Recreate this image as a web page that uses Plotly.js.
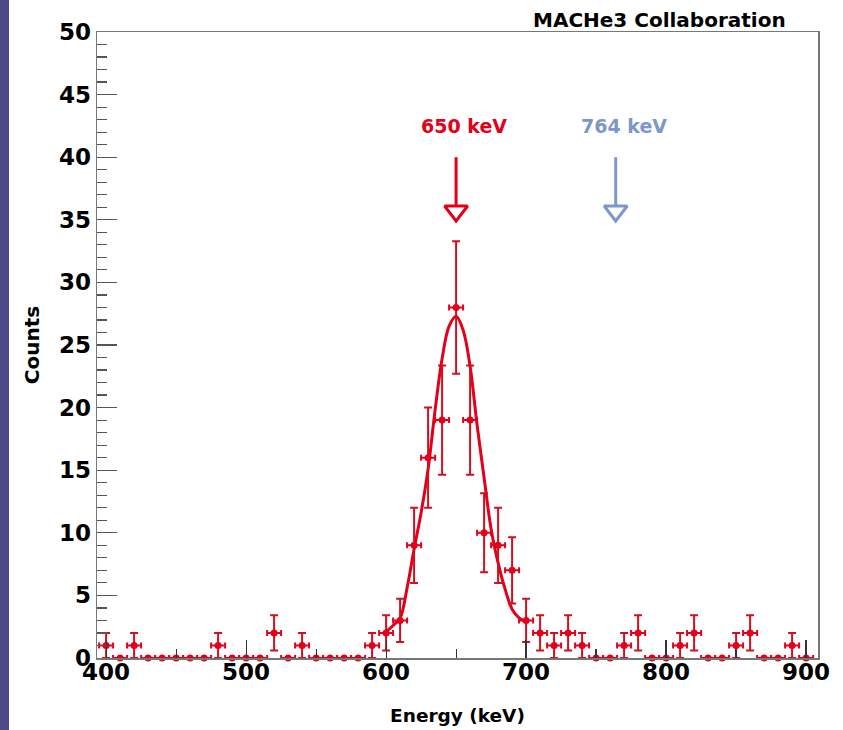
<!DOCTYPE html>
<html>
<head>
<meta charset="utf-8">
<script src="https://cdn.plot.ly/plotly-3.0.1.min.js"></script>
<style>
  html, body { margin: 0; padding: 0; background: #ffffff; }
  #stripe { position: absolute; left: 0; top: 0; width: 9px; height: 730px; background: #4e4a8a; z-index: 5; }
  #chart { width: 843px; height: 730px; }
</style>
</head>
<body>
<div id="stripe"></div>
<div id="chart"></div>
<script>
// Histogram bin centres (keV) and counts
const energies = [400,410,420,430,440,450,460,470,480,490,500,510,520,530,540,550,560,570,580,590,
                  600,610,620,630,640,650,660,670,680,690,700,710,720,730,740,750,760,770,780,790,
                  800,810,820,830,840,850,860,870,880,890,900];
const counts   = [1,0,1,0,0,0,0,0,1,0,0,0,2,0,1,0,0,0,0,1,
                  2,3,9,16,19,28,19,10,9,7,3,2,1,2,1,0,0,1,2,0,
                  0,1,2,0,0,1,2,0,0,1,0];
const countErr = [1,0,1,0,0,0,0,0,1,0,0,0,1.41,0,1,0,0,0,0,1,
                  1.41,1.73,3,4,4.36,5.29,4.36,3.16,3,2.65,1.73,1.41,1,1.41,1,0,0,1,1.41,0,
                  0,1,1.41,0,0,1,1.41,0,0,1,0];
const binHalfWidth = 5;

// Fitted curve
const fitE = [600,605,610,615,620,625,630,635,640,645,650,655,660,665,670,675,680,685,690,695,700];
const fitC = [2.1,2.6,3.2,5.6,8.7,11.6,15.1,19.8,23.9,26.5,27.3,26.2,23.3,18.6,14.4,10.3,7.6,5.5,3.9,3.2,2.9];

// Line markers
const lineE = [650, 764];
const lineLabels = ['650 keV', '764 keV'];
const arrowTop = 40;
const arrowHeadTop = 36.1;
const arrowHeadCentre = 35.7;
const labelY = 42.5;

const RED = '#e2001a';
const BLUE = '#7d97c9';
const FONT = 'DejaVu Sans';

const traces = [];

traces.push({
  x: fitE, y: fitC, type: 'scatter', mode: 'lines',
  line: {color: RED, width: 3, shape: 'spline', smoothing: 1},
  hoverinfo: 'skip', cliponaxis: false
});

traces.push({
  x: energies, y: counts, type: 'scatter', mode: 'markers',
  marker: {color: RED, size: 7, symbol: 'circle'},
  error_y: {type: 'data', array: countErr, visible: true, color: '#d0101e', thickness: 2, width: 4},
  error_x: {type: 'constant', value: binHalfWidth, visible: true, color: RED, thickness: 2, width: 3},
  cliponaxis: false
});

const arrowColors = [RED, BLUE];
lineE.forEach((e, i) => {
  traces.push({
    x: [e, e], y: [arrowTop, arrowHeadTop], type: 'scatter', mode: 'lines',
    line: {color: arrowColors[i], width: 3}, hoverinfo: 'skip'
  });
  traces.push({
    x: [e], y: [arrowHeadCentre], type: 'scatter', mode: 'markers',
    marker: {symbol: 'triangle-down-open', size: 20, color: arrowColors[i], line: {width: 3, color: arrowColors[i]}},
    hoverinfo: 'skip'
  });
});

const annotations = lineE.map((e, i) => ({
  x: e, y: labelY, xref: 'x', yref: 'y', text: lineLabels[i], showarrow: false,
  xanchor: 'center', yanchor: 'middle', xshift: 8,
  font: {family: FONT, size: 19, weight: 'bold', color: arrowColors[i]}
}));
annotations.push({
  x: 0.958, y: 1.019, xref: 'paper', yref: 'paper', text: 'MACHe3 Collaboration',
  showarrow: false, xanchor: 'right', yanchor: 'middle',
  font: {family: FONT, size: 20, weight: 'bold', color: '#000'}
});

const layout = {
  width: 843, height: 730,
  margin: {l: 97, r: 25, t: 32, b: 72, pad: 0},
  paper_bgcolor: '#ffffff', plot_bgcolor: '#ffffff',
  showlegend: false,
  xaxis: {
    range: [393.5, 908.5], tick0: 400, dtick: 100, tickmode: 'linear',
    ticks: 'inside', ticklen: 18, tickwidth: 1.2, tickcolor: '#333',
    minor: {tick0: 400, dtick: 50, ticks: 'inside', ticklen: 9, tickwidth: 1.2, tickcolor: '#333', showgrid: false},
    showgrid: false, zeroline: false, showline: true, mirror: true, linecolor: '#777', linewidth: 1.5,
    tickfont: {family: FONT, size: 23, weight: 'bold', color: '#000'},
    ticklabelstandoff: -7,
    title: {text: 'Energy (keV)', font: {family: FONT, size: 18.5, weight: 'bold', color: '#000'}, standoff: 25}
  },
  yaxis: {
    range: [0, 50], tick0: 0, dtick: 5, tickmode: 'linear',
    ticks: 'inside', ticklen: 20, tickwidth: 1.2, tickcolor: '#555',
    minor: {dtick: 1, ticks: 'inside', ticklen: 10, tickwidth: 1.2, tickcolor: '#555', showgrid: false},
    showgrid: false, zeroline: false, showline: true, mirror: true, linecolor: '#777', linewidth: 1.5,
    tickfont: {family: FONT, size: 23, weight: 'bold', color: '#000'},
    title: {text: 'Counts', font: {family: FONT, size: 20, weight: 'bold', color: '#000'}, standoff: 14}
  },
  annotations: annotations
};

Plotly.newPlot('chart', traces, layout, {displayModeBar: false, staticPlot: true});
</script>
</body>
</html>
